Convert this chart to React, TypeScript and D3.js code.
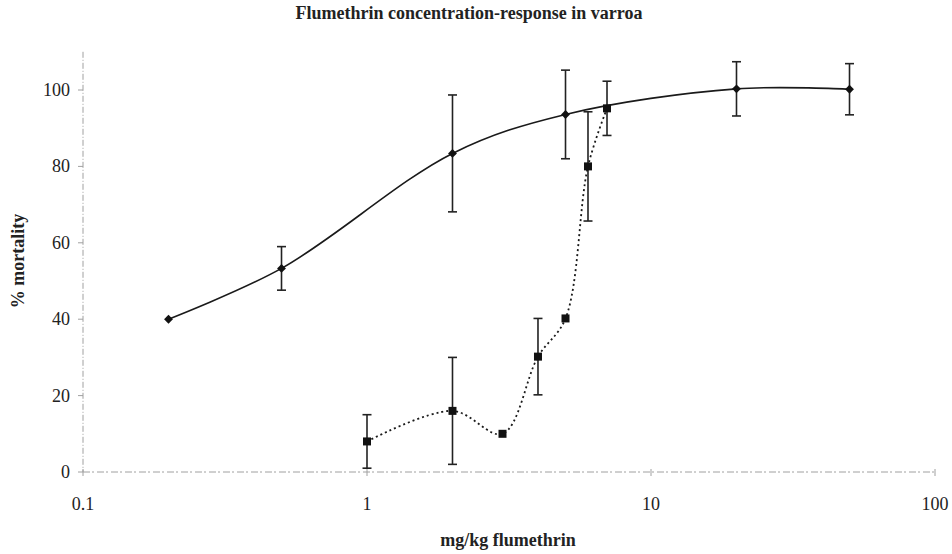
import React from "react";
import * as d3 from "d3";

const xTicks = [0.1, 1, 10, 100];
const yTicks = [0, 20, 40, 60, 80, 100];

// Series A (diamonds, solid line)
const aDose = [0.2, 0.5, 2, 5, 20, 50];
const aMort = [40, 53.3, 83.4, 93.6, 100.3, 100.2];
const aErr = [0, 5.7, 15.3, 11.6, 7.1, 6.7];

// Series B (squares, dotted line)
const bDose = [1, 2, 3, 4, 5, 6, 7];
const bMort = [8, 16, 10, 30.2, 40.2, 80, 95.2];
const bErr = [7, 14, 0, 10, 0, 14.3, 7.1];

const W = 952;
const H = 554;

export default function App() {
  const x = d3.scaleLog().domain([0.1, 100]).range([83, 935]);
  const y = d3.scaleLinear().domain([0, 110]).range([472, 51.8]);

  const line = d3
    .line<[number, number]>()
    .x((d) => x(d[0]))
    .y((d) => y(d[1]))
    .curve(d3.curveCatmullRom.alpha(0.5));

  const aPts = aDose.map((d, i) => [d, aMort[i]] as [number, number]);
  const bPts = bDose.map((d, i) => [d, bMort[i]] as [number, number]);

  const font = "'Liberation Serif', 'Times New Roman', serif";
  const axisColor = "#a0a0a0";

  const errBar = (dx: number, v: number, e: number, key: string) => {
    if (!e) return null;
    const cx = x(dx);
    const t = y(v + e);
    const b = y(v - e);
    return (
      <g key={key} stroke="#222" strokeWidth={1.6}>
        <line x1={cx} x2={cx} y1={t} y2={b} />
        <line x1={cx - 4.5} x2={cx + 4.5} y1={t} y2={t} />
        <line x1={cx - 4.5} x2={cx + 4.5} y1={b} y2={b} />
      </g>
    );
  };

  return (
    <svg width={W} height={H} style={{ position: "absolute", left: 0, top: 0, background: "#fff" }}>
      <rect width={W} height={H} fill="#fff" />
      <text x={469} y={19} textAnchor="middle" fontFamily={font} fontWeight="bold" fontSize={18} fill="#222">
        Flumethrin concentration-response in varroa
      </text>

      {/* axes */}
      <line x1={83} x2={83} y1={y(110)} y2={y(0)} stroke={axisColor} strokeWidth={1} strokeDasharray="6 2 1 2" />
      <line x1={83} x2={935} y1={y(0)} y2={y(0)} stroke={axisColor} strokeWidth={1} strokeDasharray="7 2 2 3" />
      {yTicks.map((t) => (
        <g key={"y" + t}>
          <line x1={78} x2={83} y1={y(t)} y2={y(t)} stroke={axisColor} />
          <text x={70} y={y(t) + 6} textAnchor="end" fontFamily={font} fontSize={18} fill="#222">
            {t}
          </text>
        </g>
      ))}
      {xTicks.map((t) => (
        <g key={"x" + t}>
          <line x1={x(t)} x2={x(t)} y1={y(0) - 3} y2={y(0) + 4} stroke={axisColor} />
          <text x={x(t)} y={510} textAnchor="middle" fontFamily={font} fontSize={18} fill="#222">
            {String(t)}
          </text>
        </g>
      ))}

      <text x={508} y={546} textAnchor="middle" fontFamily={font} fontWeight="bold" fontSize={18} fill="#222">
        mg/kg flumethrin
      </text>
      <text
        transform={`translate(24,261) rotate(-90)`}
        textAnchor="middle"
        fontFamily={font}
        fontWeight="bold"
        fontSize={18}
        fill="#222"
      >
        % mortality
      </text>

      {/* lines */}
      <path d={line(aPts) || ""} fill="none" stroke="#1a1a1a" strokeWidth={1.6} />
      <path d={line(bPts) || ""} fill="none" stroke="#1a1a1a" strokeWidth={1.8} strokeDasharray="2 3" />

      {/* error bars */}
      {aDose.map((d, i) => errBar(d, aMort[i], aErr[i], "ea" + i))}
      {bDose.map((d, i) => errBar(d, bMort[i], bErr[i], "eb" + i))}

      {/* markers */}
      {aPts.map((p, i) => (
        <path
          key={"ma" + i}
          d={d3.symbol(d3.symbolDiamond2, 50)() || ""}
          transform={`translate(${x(p[0])},${y(p[1])})`}
          fill="#111"
        />
      ))}
      {bPts.map((p, i) => (
        <rect key={"mb" + i} x={x(p[0]) - 4} y={y(p[1]) - 4} width={8} height={8} fill="#111" />
      ))}
    </svg>
  );
}
